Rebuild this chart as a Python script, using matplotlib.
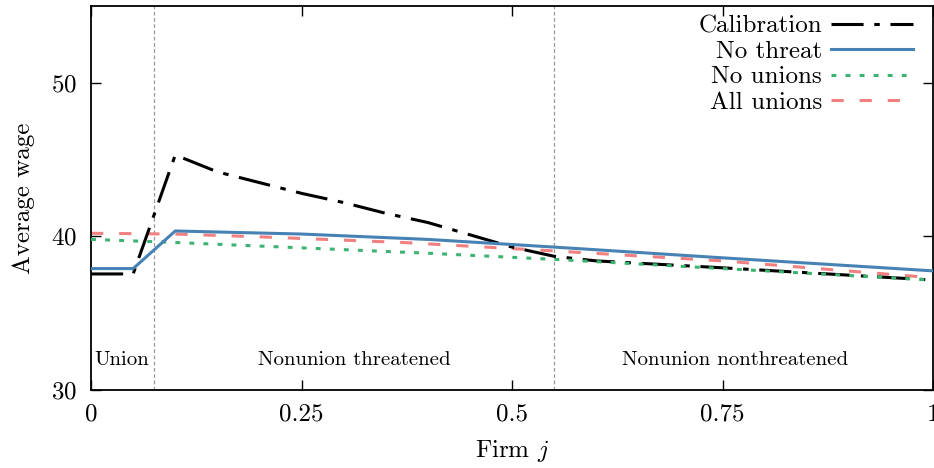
import numpy as np
import matplotlib
matplotlib.use("Agg")
import matplotlib.pyplot as plt

plt.rcParams['font.family'] = 'serif'
plt.rcParams['font.serif'] = ['cmr10', 'DejaVu Serif']
plt.rcParams['mathtext.fontset'] = 'cm'
plt.rcParams['axes.formatter.use_mathtext'] = True

# values
calib_x = [0, 0.05, 0.1, 0.15, 0.2, 0.25, 0.3, 0.35, 0.4, 0.45, 0.5, 0.55, 0.6, 0.75, 1.0]
calib_y = [37.55, 37.55, 45.3, 44.2, 43.5, 42.8, 42.2, 41.5, 40.9, 40.1, 39.3, 38.7, 38.4, 37.95, 37.15]

nothreat_x = [0, 0.05, 0.1, 0.25, 0.4, 0.55, 0.75, 1.0]
nothreat_y = [37.9, 37.9, 40.35, 40.15, 39.8, 39.3, 38.6, 37.75]

nounion_x = [0, 0.1, 0.25, 0.4, 0.55, 0.75, 1.0]
nounion_y = [39.8, 39.6, 39.25, 38.9, 38.5, 37.9, 37.15]

allunion_x = [0, 0.1, 0.2, 0.37, 0.55, 0.75, 1.0]
allunion_y = [40.2, 40.15, 39.97, 39.6, 39.05, 38.4, 37.3]

cutoffs = [0.075, 0.55]
regions = ["Union", "Nonunion threatened", "Nonunion nonthreatened"]
region_x = [0.037, 0.3125, 0.765]

fig, ax = plt.subplots(figsize=(9.34, 4.68), dpi=100)
fig.subplots_adjust(left=0.0975, right=0.999, top=0.987, bottom=0.167)

for c in cutoffs:
    ax.axvline(c, color='#999999', lw=0.9, ls=(0, (3, 2)), zorder=1)

ax.plot(calib_x, calib_y, color='black', lw=2.2, dashes=(10.5, 3.5, 1.8, 3.5),
        label='Calibration', zorder=3)
ax.plot(nothreat_x, nothreat_y, color='#4682b4', lw=2.2, label='No threat', zorder=4)
ax.plot(nounion_x, nounion_y, color='#3cb371', lw=2.2, dashes=(1.6, 3),
        label='No unions', zorder=3)
ax.plot(allunion_x, allunion_y, color='#f08080', lw=2.2, dashes=(4, 5.2),
        label='All unions', zorder=2)

for name, xc in zip(regions, region_x):
    ax.text(xc, 31.95, name, ha='center', va='center', fontsize=15)

ax.set_xlim(0, 1)
ax.set_ylim(30, 55)
ax.set_xticks([0, 0.25, 0.5, 0.75, 1])
ax.set_xticklabels(['0', '0.25', '0.5', '0.75', '1'])
ax.set_yticks([30, 40, 50])
ax.tick_params(direction='in', length=7, width=1, top=True, right=True,
               labelsize=18, pad=10)
for s in ax.spines.values():
    s.set_linewidth(1.3)

ax.set_xlabel('Firm $j$', fontsize=18, labelpad=9)
ax.set_ylabel('Average wage', fontsize=18, labelpad=12)

leg = ax.legend(loc='upper right', frameon=False, markerfirst=False,
                fontsize=18, handlelength=3.3, labelspacing=0.12,
                borderaxespad=0.25, handletextpad=0.35, borderpad=0.1,
                bbox_to_anchor=(0.987, 1.0))
for t in leg.get_texts():
    t.set_ha('right')
leg._legend_box.align = 'right'

fig.savefig('out.png', dpi=100)
